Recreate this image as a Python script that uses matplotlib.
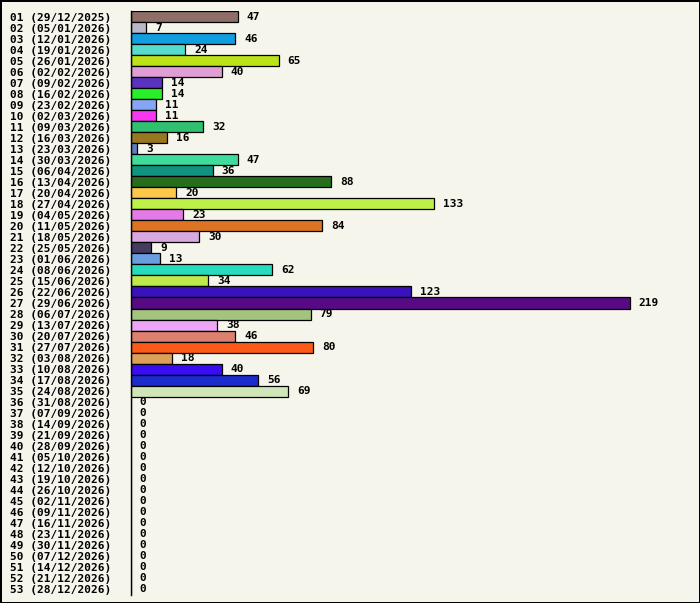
import numpy as np
import matplotlib.pyplot as plt

weeks = ["%02d" % i for i in range(1, 54)]
dates = ["29/12/2025", "05/01/2026", "12/01/2026", "19/01/2026", "26/01/2026",
         "02/02/2026", "09/02/2026", "16/02/2026", "23/02/2026", "02/03/2026",
         "09/03/2026", "16/03/2026", "23/03/2026", "30/03/2026", "06/04/2026",
         "13/04/2026", "20/04/2026", "27/04/2026", "04/05/2026", "11/05/2026",
         "18/05/2026", "25/05/2026", "01/06/2026", "08/06/2026", "15/06/2026",
         "22/06/2026", "29/06/2026", "06/07/2026", "13/07/2026", "20/07/2026",
         "27/07/2026", "03/08/2026", "10/08/2026", "17/08/2026", "24/08/2026",
         "31/08/2026", "07/09/2026", "14/09/2026", "21/09/2026", "28/09/2026",
         "05/10/2026", "12/10/2026", "19/10/2026", "26/10/2026", "02/11/2026",
         "09/11/2026", "16/11/2026", "23/11/2026", "30/11/2026", "07/12/2026",
         "14/12/2026", "21/12/2026", "28/12/2026"]
values = [47, 7, 46, 24, 65, 40, 14, 14, 11, 11, 32, 16, 3, 47, 36, 88, 20, 133,
          23, 84, 30, 9, 13, 62, 34, 123, 219, 79, 38, 46, 80, 18, 40, 56, 69] + [0] * 18
colors = ["#8e6e66", "#b8b8c8", "#109ee0", "#55dccc", "#bce218", "#e09ed4",
          "#5a32c0", "#28f028", "#88a4f4", "#f838f0", "#30c070", "#967820",
          "#5a80c0", "#40dc9c", "#109480", "#266e1e", "#fcc84c", "#bef048",
          "#e47ae8", "#dc7424", "#d8a8e0", "#463c60", "#6a9ce0", "#26dcbc",
          "#bee84c", "#3a12bc", "#560a84", "#a2c47c", "#eca4f4", "#dc8070",
          "#fc5a18", "#dca058", "#3a0cf0", "#1a2ccc", "#d0e6b8"] + ["#ffffff"] * 18

labels = ["%s (%s)" % (w, d) for w, d in zip(weeks, dates)]
bg = "#f5f5eb"
W, H = 700, 603

fig = plt.figure(figsize=(W / 100, H / 100), dpi=100)
fig.patch.set_facecolor(bg)
fig.patch.set_edgecolor("black")
fig.patch.set_linewidth(2)

ax = fig.add_axes([130.5 / W, 1 - 595 / H, 560 / W, 584 / H])
ax.set_facecolor(bg)
y = np.arange(len(values))
ax.barh(y, values, height=1.0, color=colors, edgecolor="black", linewidth=0.9)
ax.set_ylim(len(values) - 0.5, -0.5)
ax.set_xlim(0, 560 / 2.28)

for s in ["top", "right", "bottom"]:
    ax.spines[s].set_visible(False)
ax.spines["left"].set_linewidth(1)
ax.set_xticks([])
ax.set_yticks(y)
ax.set_yticklabels(labels, family="DejaVu Sans Mono", fontweight="bold", fontsize=8)
ax.tick_params(axis="y", length=0, pad=120 * 0.72)
for t in ax.get_yticklabels():
    t.set_horizontalalignment("left")

for i, v in enumerate(values):
    ax.annotate(str(v), (v, i), xytext=(6.5, 0), textcoords="offset points",
                va="center", ha="left", family="DejaVu Sans Mono",
                fontweight="bold", fontsize=8)

fig.savefig("out.png", dpi=100, facecolor=bg, edgecolor="black")
